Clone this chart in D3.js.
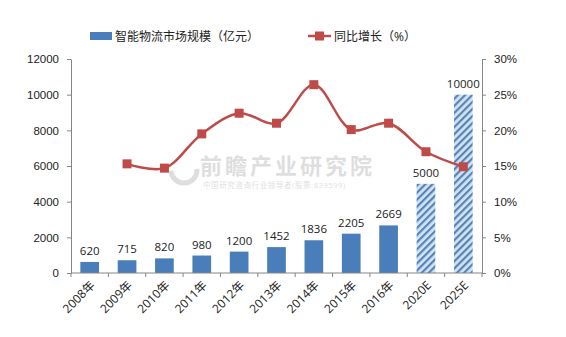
<!DOCTYPE html>
<html>
<head>
<meta charset="utf-8">
<script src="https://cdn.jsdelivr.net/npm/d3@7"></script>
<style>
  html, body { margin: 0; padding: 0; background: #fff; }
  svg { display: block; font-family: "Open Sans", "Noto Sans CJK SC", sans-serif; }
</style>
</head>
<body>
<svg id="chart" width="566" height="337"></svg>
<script>
// Market size (100M yuan) and year-on-year growth (%)
const categories = ["2008年", "2009年", "2010年", "2011年", "2012年", "2013年", "2014年", "2015年", "2016年", "2020E", "2025E"];
const marketSize = [620, 715, 820, 980, 1200, 1452, 1836, 2205, 2669, 5000, 10000];
const growth = [null, 15.3, 14.7, 19.5, 22.4, 21.0, 26.4, 20.1, 21.0, 17.0, 14.9];
const forecast = [false, false, false, false, false, false, false, false, false, true, true];
const leftTicks = [0, 2000, 4000, 6000, 8000, 10000, 12000];
const rightTicks = [0, 5, 10, 15, 20, 25, 30];
const legendLabels = ["智能物流市场规模（亿元）", "同比增长（%）"];

const svg = d3.select("#chart");
const plotLeft = 71, plotRight = 482, plotTop = 59, plotBottom = 273;

const x = d3.scaleBand().domain(categories).range([plotLeft, plotRight]).paddingInner(0.5).paddingOuter(0.25);
const yL = d3.scaleLinear().domain([0, 12000]).range([plotBottom, plotTop]);
const yR = d3.scaleLinear().domain([0, 30]).range([plotBottom, plotTop]);

const axisColor = "#868686";
const barColor = "#4a7ebb";
const lineColor = "#be4b48";

// Hatch pattern for forecast bars
const defs = svg.append("defs");
const pat = defs.append("pattern")
  .attr("id", "hatch").attr("patternUnits", "userSpaceOnUse")
  .attr("width", 5).attr("height", 5)
  .attr("patternTransform", "rotate(45)");
pat.append("rect").attr("width", 5).attr("height", 5).attr("fill", "#cfe4f7");
pat.append("rect").attr("width", 2.2).attr("height", 5).attr("fill", "#5b82b5");

// Watermark
const wm = svg.append("g").attr("opacity", 0.22).attr("fill", "#6b6b6b");
wm.append("circle").attr("cx", 184).attr("cy", 170).attr("r", 13).attr("fill", "none")
  .attr("stroke", "#6b6b6b").attr("stroke-width", 5).attr("stroke-dasharray", "40 40");
wm.append("text").attr("x", 200).attr("y", 174).attr("font-size", 22).attr("font-weight", "bold")
  .attr("letter-spacing", 3).text("前瞻产业研究院");
wm.append("text").attr("x", 203).attr("y", 188).attr("font-size", 7.5)
  .attr("letter-spacing", 0.6).text("中国研究咨询行业领导者(股票:839599)");

// Bars
svg.append("g").selectAll("rect").data(categories).join("rect")
  .attr("x", d => x(d))
  .attr("width", x.bandwidth())
  .attr("y", (d, i) => yL(marketSize[i]))
  .attr("height", (d, i) => yL(0) - yL(marketSize[i]))
  .attr("fill", (d, i) => forecast[i] ? "url(#hatch)" : barColor);

// Bar value labels
svg.append("g").selectAll("text").data(categories).join("text")
  .attr("x", d => x(d) + x.bandwidth() / 2)
  .attr("y", (d, i) => yL(marketSize[i]) - 7)
  .attr("text-anchor", "middle")
  .attr("font-size", 11.5)
  .attr("fill", "#222")
  .text((d, i) => marketSize[i]);

// Growth line
const pts = categories.map((c, i) => ({ c, v: growth[i] })).filter(d => d.v !== null);
const line = d3.line().x(d => x(d.c) + x.bandwidth() / 2).y(d => yR(d.v)).curve(d3.curveCatmullRom.alpha(0.5));
svg.append("path").datum(pts).attr("d", line)
  .attr("fill", "none").attr("stroke", lineColor).attr("stroke-width", 2.5);
svg.append("g").selectAll("rect").data(pts).join("rect")
  .attr("x", d => x(d.c) + x.bandwidth() / 2 - 4.5)
  .attr("y", d => yR(d.v) - 4.5)
  .attr("width", 9).attr("height", 9)
  .attr("fill", lineColor);

// Axes
function styleAxis(g) {
  g.selectAll("path, line").attr("stroke", axisColor);
  g.selectAll("text").attr("fill", "#222").attr("font-size", 11.5);
}
svg.append("g").attr("transform", `translate(${plotLeft},0)`)
  .call(d3.axisLeft(yL).tickValues(leftTicks).tickSize(4).tickSizeOuter(0).tickPadding(8).tickFormat(d3.format("d")))
  .call(styleAxis);
svg.append("g").attr("transform", `translate(${plotRight},0)`)
  .call(d3.axisRight(yR).tickValues(rightTicks).tickSize(4).tickSizeOuter(0).tickPadding(8).tickFormat(d => d + "%"))
  .call(styleAxis);

// Category axis: ticks at band boundaries
const xg = svg.append("g").attr("transform", `translate(0,${plotBottom})`);
xg.append("line").attr("x1", plotLeft).attr("x2", plotRight).attr("stroke", axisColor);
const bounds = d3.range(categories.length + 1).map(i => plotLeft + i * (plotRight - plotLeft) / categories.length);
xg.selectAll("line.tk").data(bounds).join("line").attr("class", "tk")
  .attr("x1", d => d).attr("x2", d => d).attr("y1", 0).attr("y2", 4).attr("stroke", axisColor);
xg.selectAll("text").data(categories).join("text")
  .attr("transform", d => `translate(${x(d) + x.bandwidth() / 2 + 6},${13}) rotate(-45)`)
  .attr("text-anchor", "end")
  .attr("font-size", 12)
  .attr("fill", "#222")
  .text(d => d);

// Legend
const lg = svg.append("g");
lg.append("rect").attr("x", 90).attr("y", 32).attr("width", 22).attr("height", 8).attr("fill", barColor);
lg.append("text").attr("x", 115).attr("y", 41).attr("font-size", 12).attr("fill", "#222").text(legendLabels[0]);
lg.append("line").attr("x1", 308).attr("x2", 331).attr("y1", 36).attr("y2", 36).attr("stroke", lineColor).attr("stroke-width", 2.5);
lg.append("rect").attr("x", 315).attr("y", 31.5).attr("width", 9).attr("height", 9).attr("fill", lineColor);
lg.append("text").attr("x", 334).attr("y", 41).attr("font-size", 12).attr("fill", "#222").text(legendLabels[1]);
</script>
</body>
</html>
